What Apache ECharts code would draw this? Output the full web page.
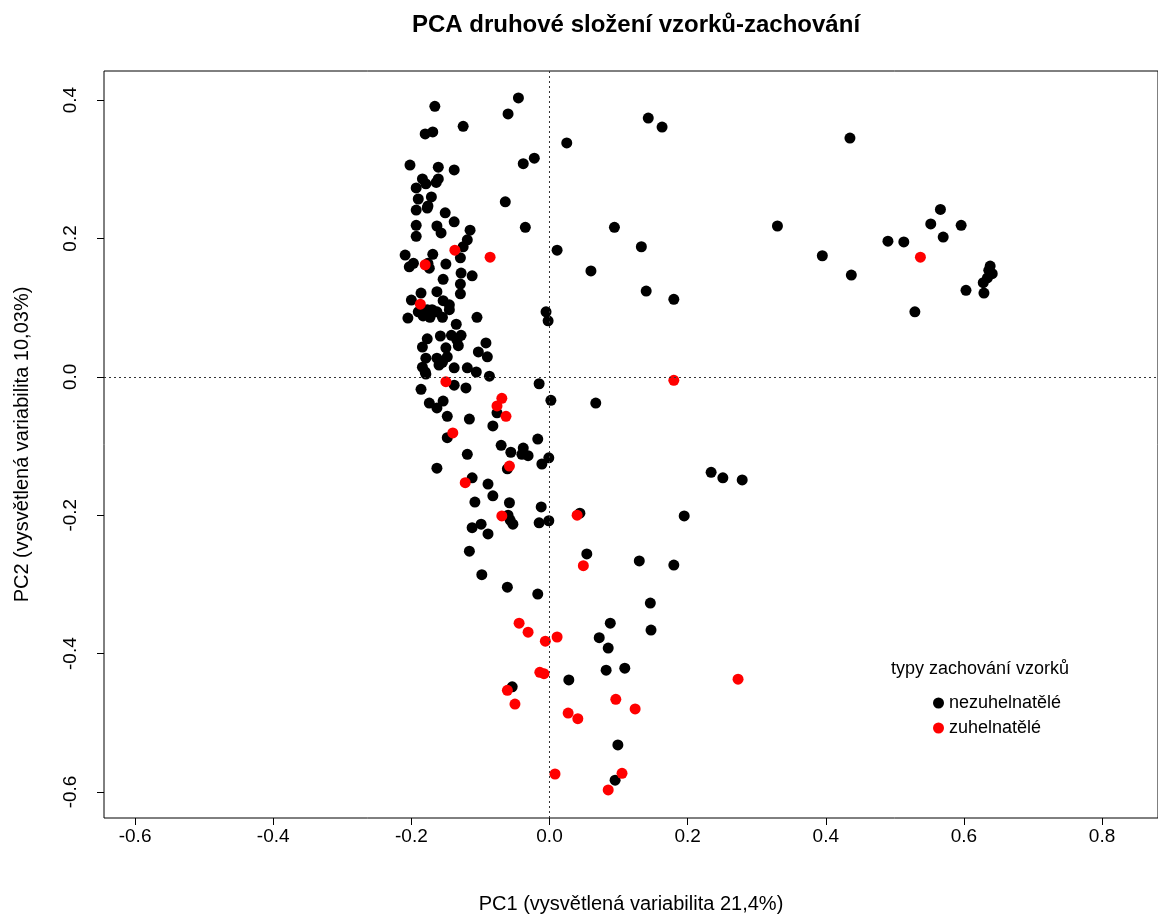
<!DOCTYPE html>
<html>
<head>
<meta charset="utf-8">
<script src="https://cdn.jsdelivr.net/npm/echarts@6/dist/echarts.min.js"></script>
<style>
  html, body { margin: 0; padding: 0; background: #fff; }
  #chart { width: 1158px; height: 915px; }
</style>
</head>
<body>
<div id="chart"></div>
<script>
// PCA scores
const nezuhelnatele = [
  [-0.166, 0.391], [-0.045, 0.403], [-0.060, 0.380], [-0.169, 0.354], [-0.180, 0.351],
  [-0.125, 0.362], [-0.202, 0.306], [-0.161, 0.303], [-0.138, 0.299], [-0.038, 0.308],
  [-0.022, 0.316], [-0.184, 0.286], [-0.179, 0.279], [-0.161, 0.286], [-0.164, 0.281],
  [-0.193, 0.273], [-0.190, 0.257], [-0.171, 0.260], [-0.193, 0.241], [-0.177, 0.244],
  [-0.176, 0.247], [-0.151, 0.237], [-0.138, 0.224], [-0.064, 0.253], [-0.193, 0.219],
  [-0.163, 0.218], [-0.157, 0.208], [-0.115, 0.212], [-0.035, 0.216], [-0.193, 0.203],
  [-0.119, 0.198], [0.143, 0.374], [0.163, 0.361], [0.025, 0.338], [0.094, 0.216],
  [0.011, 0.183], [0.133, 0.188], [0.060, 0.153], [0.140, 0.124], [0.180, 0.112],
  [-0.125, 0.188], [-0.209, 0.176], [-0.169, 0.177], [-0.197, 0.164], [-0.203, 0.159],
  [-0.176, 0.164], [-0.174, 0.157], [-0.150, 0.163], [-0.129, 0.172], [-0.128, 0.150],
  [-0.112, 0.146], [-0.154, 0.141], [-0.129, 0.134], [-0.129, 0.120], [-0.186, 0.121],
  [-0.163, 0.123], [-0.200, 0.111], [-0.154, 0.110], [-0.145, 0.104], [-0.190, 0.094],
  [-0.177, 0.097], [-0.170, 0.097], [-0.183, 0.088], [-0.173, 0.086], [-0.163, 0.094],
  [-0.155, 0.086], [-0.145, 0.097], [-0.205, 0.085], [-0.105, 0.086], [-0.135, 0.076],
  [-0.005, 0.094], [-0.002, 0.081], [-0.158, 0.059], [-0.142, 0.060], [-0.128, 0.060],
  [-0.134, 0.053], [-0.177, 0.055], [-0.184, 0.043], [-0.132, 0.045], [-0.092, 0.049],
  [-0.150, 0.042], [-0.103, 0.036], [-0.090, 0.029], [-0.179, 0.027], [-0.163, 0.027],
  [-0.148, 0.029], [-0.160, 0.017], [-0.155, 0.021], [-0.184, 0.014], [-0.180, 0.007],
  [-0.138, 0.013], [-0.119, 0.013], [-0.106, 0.007], [-0.087, 0.001], [-0.179, 0.004],
  [-0.138, -0.012], [-0.121, -0.016], [-0.186, -0.018], [-0.015, -0.010], [0.002, -0.034],
  [-0.076, -0.052], [-0.174, -0.038], [-0.154, -0.035], [-0.163, -0.045], [-0.148, -0.057],
  [-0.116, -0.061], [-0.082, -0.071], [-0.148, -0.088], [-0.017, -0.090], [-0.070, -0.099],
  [-0.056, -0.109], [-0.038, -0.103], [-0.040, -0.112], [-0.031, -0.114], [-0.119, -0.112],
  [-0.001, -0.117], [-0.011, -0.126], [-0.061, -0.133], [-0.163, -0.132], [-0.112, -0.146],
  [-0.089, -0.155], [-0.082, -0.172], [-0.108, -0.181], [-0.058, -0.182], [-0.012, -0.188],
  [-0.060, -0.200], [-0.057, -0.207], [-0.053, -0.213], [-0.001, -0.208], [-0.015, -0.211],
  [0.044, -0.197], [-0.112, -0.218], [-0.099, -0.213], [-0.089, -0.227], [-0.116, -0.252],
  [0.054, -0.256], [-0.098, -0.286], [-0.061, -0.304], [-0.017, -0.314], [0.088, -0.356],
  [0.072, -0.377], [0.085, -0.392], [0.147, -0.366], [0.028, -0.438], [0.082, -0.424],
  [0.109, -0.421], [-0.054, -0.448], [0.099, -0.532], [0.095, -0.583], [0.130, -0.266],
  [0.180, -0.272], [0.146, -0.327], [0.067, -0.038], [0.234, -0.138], [0.251, -0.146],
  [0.279, -0.149], [0.195, -0.201], [0.435, 0.345], [0.330, 0.218], [0.566, 0.242],
  [0.552, 0.221], [0.596, 0.219], [0.570, 0.202], [0.490, 0.196], [0.513, 0.195],
  [0.638, 0.160], [0.641, 0.149], [0.634, 0.143], [0.628, 0.136], [0.629, 0.121],
  [0.603, 0.125], [0.529, 0.094], [0.395, 0.175], [0.437, 0.147], [0.636, 0.154]
]

const zuhelnatele = [
  [-0.137, 0.183], [-0.086, 0.173], [-0.180, 0.162], [-0.187, 0.105], [-0.150, -0.007],
  [-0.069, -0.031], [-0.076, -0.042], [-0.063, -0.057], [-0.140, -0.081], [-0.058, -0.129],
  [-0.122, -0.153], [-0.069, -0.201], [0.040, -0.200], [0.049, -0.273], [-0.044, -0.356],
  [-0.031, -0.369], [-0.006, -0.382], [0.011, -0.376], [-0.014, -0.427], [-0.008, -0.429],
  [-0.061, -0.453], [-0.050, -0.473], [0.027, -0.486], [0.041, -0.494], [0.096, -0.466],
  [0.124, -0.480], [0.008, -0.574], [0.105, -0.573], [0.085, -0.597], [0.273, -0.437],
  [0.180, -0.005], [0.537, 0.173]
]

const xTicks = [-0.6, -0.4, -0.2, 0.0, 0.2, 0.4, 0.6, 0.8]
const yTicks = [-0.6, -0.4, -0.2, 0.0, 0.2, 0.4]

const seriesNames = ['nezuhelnatělé', 'zuhelnatělé']
const seriesColors = ['#000000', '#ff0000']

const font = '"Liberation Sans", Arial, sans-serif'

const chart = echarts.init(document.getElementById('chart'))

const dottedLine = {
  silent: true,
  symbol: 'none',
  label: { show: false },
  lineStyle: { color: '#333', type: [2, 3], width: 1 },
  data: [{ xAxis: 0 }, { yAxis: 0 }]
}

const option = {
  animation: false,
  backgroundColor: '#fff',
  textStyle: { fontFamily: font },
  title: {
    text: 'PCA druhové složení vzorků-zachování',
    left: 631,
    top: 8,
    textAlign: 'center',
    textStyle: { fontFamily: font, fontSize: 24, fontWeight: 'bold', color: '#000' }
  },
  grid: {
    left: 104,
    right: 0,
    top: 71,
    bottom: 97,
    containLabel: false,
    outerBoundsMode: 'none',
    show: true,
    borderColor: '#000',
    borderWidth: 1,
    backgroundColor: 'transparent'
  },
  xAxis: {
    type: 'value',
    min: -0.645,
    max: 0.881,
    name: 'PC1 (vysvětlená variabilita 21,4%)',
    nameLocation: 'middle',
    nameGap: 76,
    nameTextStyle: { fontFamily: font, fontSize: 20, color: '#000' },
    axisLine: { show: false, onZero: false },
    splitLine: { show: false },
    axisTick: {
      show: true,
      inside: false,
      length: 7,
      customValues: xTicks,
      lineStyle: { color: '#000' }
    },
    axisLabel: {
      customValues: xTicks,
      margin: 9,
      fontFamily: font,
      fontSize: 19,
      color: '#000',
      formatter: v => v.toFixed(1)
    }
  },
  yAxis: {
    type: 'value',
    min: -0.6376,
    max: 0.442,
    name: 'PC2 (vysvětlená variabilita 10,03%)',
    nameLocation: 'middle',
    nameGap: 72,
    nameRotate: 90,
    nameTextStyle: { fontFamily: font, fontSize: 20, color: '#000' },
    axisLine: { show: false, onZero: false },
    splitLine: { show: false },
    axisTick: {
      show: true,
      inside: false,
      length: 7,
      customValues: yTicks,
      lineStyle: { color: '#000' }
    },
    axisLabel: {
      customValues: yTicks,
      rotate: 90,
      margin: 24,
      fontFamily: font,
      fontSize: 19,
      color: '#000',
      formatter: v => v.toFixed(1)
    }
  },
  legend: {
    orient: 'vertical',
    left: 928,
    top: 689,
    itemGap: 7,
    itemWidth: 11,
    itemHeight: 11,
    icon: 'circle',
    textStyle: { fontFamily: font, fontSize: 18, color: '#000' },
    data: seriesNames
  },
  graphic: [{
    type: 'text',
    left: 891,
    top: 660,
    style: {
      text: 'typy zachování vzorků',
      font: '18px ' + font,
      fill: '#000'
    }
  }],
  series: [
    {
      name: seriesNames[0],
      type: 'scatter',
      symbolSize: 11,
      itemStyle: { color: seriesColors[0], opacity: 1 },
      data: nezuhelnatele,
      markLine: dottedLine
    },
    {
      name: seriesNames[1],
      type: 'scatter',
      symbolSize: 11,
      itemStyle: { color: seriesColors[1], opacity: 1 },
      data: zuhelnatele
    }
  ]
}

chart.setOption(option)
</script>
</body>
</html>
